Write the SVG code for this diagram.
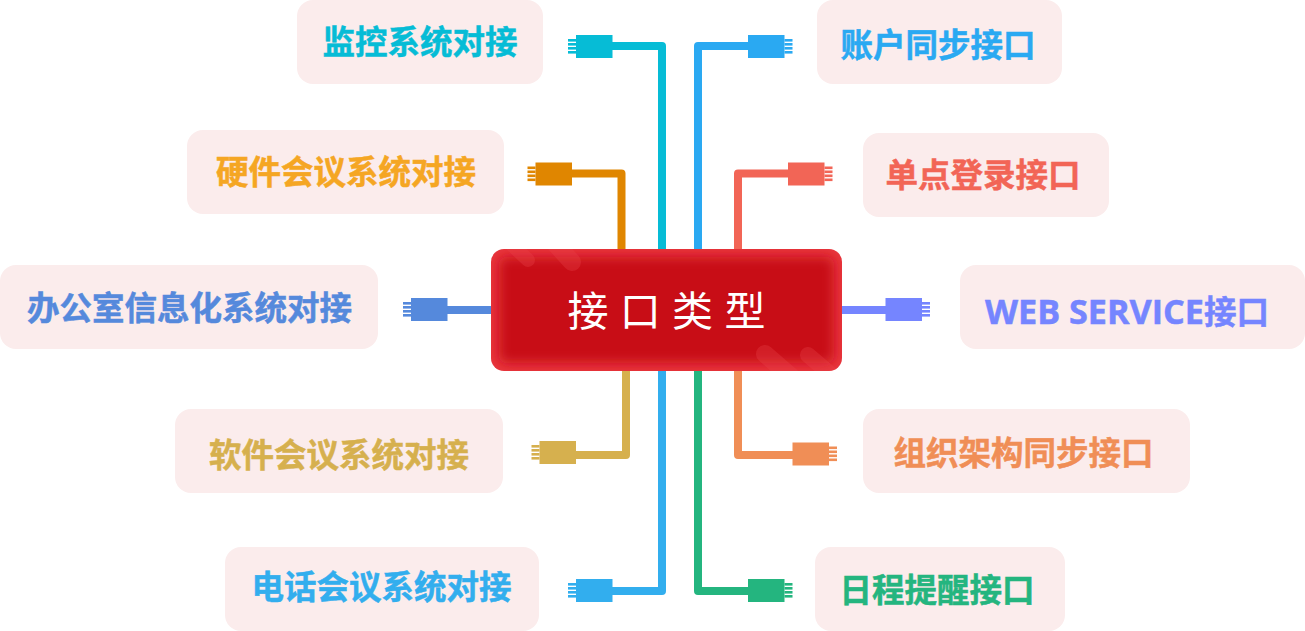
<svg xmlns="http://www.w3.org/2000/svg" width="1305" height="631" viewBox="0 0 1305 631">
<style>
.box{fill:#fbecec}
.lbl{font-family:"Open Sans","Noto Sans CJK SC",sans-serif;font-weight:700;font-size:32.5px;text-anchor:middle;fill:currentColor;stroke:currentColor;stroke-width:.5px}
.wire{fill:none;stroke:currentColor;stroke-width:8;stroke-linejoin:round}
.plug{fill:currentColor}
.title{font-family:"Noto Sans CJK SC",sans-serif;font-weight:400;font-size:41px;letter-spacing:11.300px;fill:#fff}
.stripe{fill:none;stroke:#e8454c;stroke-opacity:.32;stroke-linecap:round}
</style>
<defs>
<g id="pinsL" class="plug"><rect x="-8" y="4" width="8" height="2.6"/><rect x="-8" y="8" width="8" height="2.6"/><rect x="-8" y="12" width="8" height="2.6"/><rect x="-8" y="16" width="8" height="2.6"/><rect x="0" y="0" width="36.5" height="23"/></g>
<g id="pinsR" class="plug"><rect x="36.5" y="4" width="8" height="2.6"/><rect x="36.5" y="8" width="8" height="2.6"/><rect x="36.5" y="12" width="8" height="2.6"/><rect x="36.5" y="16" width="8" height="2.6"/><rect x="0" y="0" width="36.5" height="23"/></g>
<clipPath id="cb"><rect x="491" y="249" width="351" height="122" rx="13"/></clipPath>
<filter id="soft" x="-10%" y="-30%" width="120%" height="160%"><feGaussianBlur stdDeviation="6"/></filter>
</defs>
<g id="connectors">
<g color="#06bcd6"><path class="wire" d="M610 46H662V250"/><use href="#pinsL" x="576" y="35"/></g>
<g color="#2aa9f2"><path class="wire" d="M750 46H698V250"/><use href="#pinsR" x="748" y="35"/></g>
<g color="#e08600"><path class="wire" d="M570 173.500H621.500V250"/><use href="#pinsL" x="535.500" y="162.500"/></g>
<g color="#f26556"><path class="wire" d="M790 173.500H738V250"/><use href="#pinsR" x="788" y="162.500"/></g>
<g color="#5589dc"><path class="wire" d="M445 310H492"/><use href="#pinsL" x="411" y="298"/></g>
<g color="#7585ff"><path class="wire" d="M841 310H888"/><use href="#pinsR" x="885.500" y="298"/></g>
<g color="#d6b04e"><path class="wire" d="M574 455H626V370"/><use href="#pinsL" x="539.500" y="441"/></g>
<g color="#f08e56"><path class="wire" d="M794 455H738V370"/><use href="#pinsR" x="792.500" y="442.500"/></g>
<g color="#32aeee"><path class="wire" d="M610 591H662V370"/><use href="#pinsL" x="576" y="579"/></g>
<g color="#24b57f"><path class="wire" d="M750 591H698V370"/><use href="#pinsR" x="748" y="579"/></g>
</g>
<g id="center">
<rect x="491" y="249" width="351" height="122" rx="13" fill="#e8363e"/>
<g clip-path="url(#cb)">
<rect x="499" y="257" width="335" height="106" rx="8" fill="#c81014" filter="url(#soft)"/>
<path class="stripe" stroke-width="14" d="M512 245L528 260"/>
<path class="stripe" stroke-width="18" d="M552 240L572 262"/>
<path class="stripe" stroke-width="18" d="M765 354L795 380"/>
<path class="stripe" stroke-width="16" d="M808 355L835 378"/>
</g>
<text class="title" x="567.500" y="325.500">接口类型</text>
</g>
<g id="n-monitor"><rect class="box" x="297" y="0" width="246" height="84" rx="16"/><text class="lbl" x="420" y="54" color="#06bcd6">监控系统对接</text></g>
<g id="n-account"><rect class="box" x="817" y="0" width="245" height="84" rx="16"/><text class="lbl" x="938" y="57" color="#2aa9f2">账户同步接口</text></g>
<g id="n-hardware"><rect class="box" x="187" y="130" width="317" height="84" rx="16"/><text class="lbl" x="346" y="184" color="#f5a623">硬件会议系统对接</text></g>
<g id="n-sso"><rect class="box" x="863" y="133" width="246" height="84" rx="16"/><text class="lbl" x="983" y="187" color="#f26556">单点登录接口</text></g>
<g id="n-office"><rect class="box" x="0" y="265" width="378" height="84" rx="16"/><text class="lbl" x="189.500" y="320" color="#5589dc">办公室信息化系统对接</text></g>
<g id="n-web"><rect class="box" x="960" y="265" width="345" height="84" rx="16"/><text class="lbl" x="1127" y="324" color="#7585ff"><tspan font-size="34.200">WEB SERVICE</tspan>接口</text></g>
<g id="n-software"><rect class="box" x="175" y="409" width="328" height="84" rx="16"/><text class="lbl" x="339" y="467" color="#d6b04e">软件会议系统对接</text></g>
<g id="n-org"><rect class="box" x="863" y="409" width="327" height="84" rx="16"/><text class="lbl" x="1023.500" y="465" color="#f08e56">组织架构同步接口</text></g>
<g id="n-phone"><rect class="box" x="225" y="547" width="314" height="84" rx="16"/><text class="lbl" x="381.500" y="599" color="#32aeee">电话会议系统对接</text></g>
<g id="n-schedule"><rect class="box" x="815" y="547" width="250" height="84" rx="16"/><text class="lbl" x="937" y="602" color="#24b57f">日程提醒接口</text></g>
</svg>
